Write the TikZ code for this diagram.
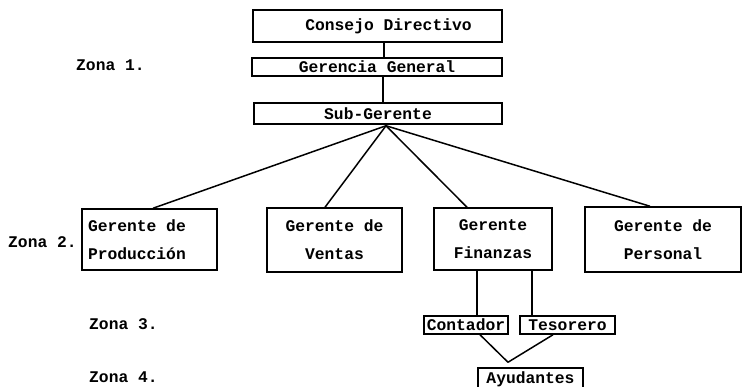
\documentclass[tikz,border=0pt]{standalone}
\usepackage{fontspec}
\newfontfamily\tw{Liberation Mono}
\newcommand{\twfont}{\tw\bfseries\fontsize{16.3}{28}\selectfont}
\begin{document}
\begin{tikzpicture}[x=1pt,y=-1pt,
  box/.style={draw, line width=1.5pt, inner sep=0pt, font=\twfont, align=center},
  zona/.style={anchor=west, inner sep=0pt, font=\twfont},
  conn/.style={line width=1.5pt}]
\useasboundingbox (0,0) rectangle (744,387);

% Zona 1
\node[box, minimum width=249pt, minimum height=32pt] (consejo) at (377.5,26) {\raisebox{-6pt}{\hspace{22pt}Consejo Directivo}};
\node[box, minimum width=250pt, minimum height=18pt] (gerencia) at (377,67) {Gerencia General};
\node[box, minimum width=248pt, minimum height=21pt] (sub) at (378,113.5) {Sub-Gerente};

% Zona 2
\node[box, minimum width=135pt, minimum height=61pt] (prod) at (149.5,239.5) {\makebox[123pt][l]{Gerente de}\\\makebox[123pt][l]{Producción}};
\node[box, minimum width=135pt, minimum height=64pt] (ventas) at (334.5,240) {Gerente de\\Ventas};
\node[box, minimum width=118pt, minimum height=62pt] (fin) at (493,239) {Gerente\\Finanzas};
\node[box, minimum width=156pt, minimum height=65pt] (pers) at (663,239.5) {Gerente de\\Personal};

% Zona 3
\node[box, minimum width=84pt, minimum height=18pt] (cont) at (466,325) {Contador};
\node[box, minimum width=95pt, minimum height=18pt] (teso) at (567.5,325) {Tesorero};

% Zona 4
\node[box, minimum width=105pt, minimum height=22pt] (ayud) at (530.5,379) {Ayudantes};

% zone labels
\node[zona] (z1) at (76,65) {Zona 1.};
\node[zona] (z2) at (8,242) {Zona 2.};
\node[zona] (z3) at (89,324) {Zona 3.};
\node[zona] (z4) at (89,377) {Zona 4.};

% connectors
\draw[conn] ([xshift=6.5pt]consejo.south) -- ([xshift=7pt]gerencia.north);
\draw[conn] ([xshift=6pt]gerencia.south) -- ([xshift=5pt]sub.north);
\coordinate (apex) at ([xshift=8pt,yshift=-1pt]sub.south);
\draw[conn] (apex) -- ([xshift=3.5pt]prod.north);
\draw[conn] (apex) -- ([xshift=-9.5pt]ventas.north);
\draw[conn] (apex) -- ([xshift=-26pt]fin.north);
\draw[conn] (apex) -- ([xshift=-13pt]pers.north);
\draw[conn] ([xshift=-16pt]fin.south) -- ([xshift=11pt]cont.north);
\draw[conn] ([xshift=39pt]fin.south) -- ([xshift=-35.5pt]teso.north);
\coordinate (apex2) at ([xshift=-22.5pt,yshift=5pt]ayud.north);
\draw[conn] ([xshift=14pt]cont.south) -- (apex2);
\draw[conn] ([xshift=-14.5pt]teso.south) -- (apex2);
\end{tikzpicture}
\end{document}
